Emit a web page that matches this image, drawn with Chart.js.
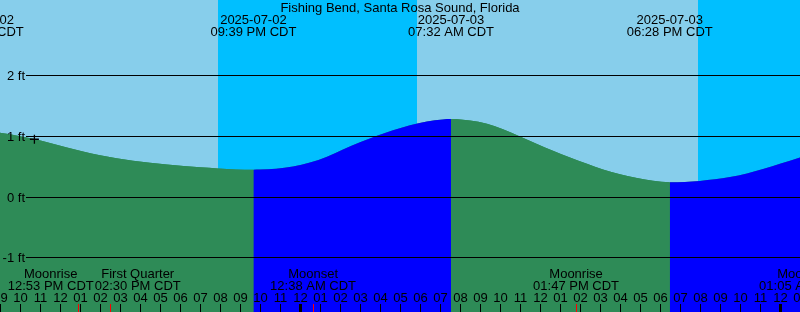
<!DOCTYPE html>
<html>
<head>
<meta charset="utf-8">
<title>Fishing Bend, Santa Rosa Sound, Florida</title>
<script src="https://cdn.jsdelivr.net/npm/chart.js@4/dist/chart.umd.min.js"></script>
<style>
  html, body { margin: 0; padding: 0; background: #87ceeb; }
  canvas { display: block; }
</style>
</head>
<body>
<canvas id="tide-chart" width="800" height="312"></canvas>
<script>
const title = 'Fishing Bend, Santa Rosa Sound, Florida';

// all hours are counted from 2025-07-02 00:00 CDT
const viewStart = 8.98;
const viewHours = 40;

// tide height (ft)
const tideHours = [8.03, 8.98, 9.48, 10.63, 11.48, 12.33, 13.13, 13.98, 15.63, 17.33, 18.98, 19.88,
  21.65, 21.98, 22.78, 23.63, 24.48, 25.33, 26.13, 26.98, 27.83, 28.63, 29.48, 30.33, 31.13,
  31.53, 32.48, 33.33, 34.13, 34.98, 35.83, 36.63, 37.48, 38.33, 39.13, 39.98, 40.83, 41.63,
  42.47, 43.23, 43.98, 44.73, 45.48, 46.33, 47.13, 47.98, 48.98, 49.98];
const tideFeet = [1.083, 1.063, 1.038, 0.963, 0.893, 0.819, 0.753, 0.692, 0.600, 0.537, 0.494, 0.475,
  0.452, 0.455, 0.468, 0.504, 0.572, 0.668, 0.786, 0.905, 1.012, 1.104, 1.187, 1.249, 1.282,
  1.289, 1.264, 1.210, 1.119, 0.999, 0.877, 0.765, 0.654, 0.551, 0.458, 0.379, 0.316, 0.270,
  0.246, 0.252, 0.269, 0.295, 0.333, 0.392, 0.463, 0.551, 0.654, 0.765];

const nowHour = 10.70;
const nowFeet = 0.955;

const extremeTimes = ['2025-07-02 08:01', '2025-07-02 21:39', '2025-07-03 07:32', '2025-07-03 18:28'];

const nightStarts = ['2025-07-02 19:53', '2025-07-03 19:53'];
const nightEnds = ['2025-07-03 05:50', '2025-07-04 05:50'];

const moonNames = ['Moonrise', 'First Quarter', 'Moonset', 'Moonrise', 'Moonset'];
const moonTimes = ['2025-07-02 12:53', '2025-07-02 14:30', '2025-07-03 00:38', '2025-07-03 13:47', '2025-07-04 01:05'];

const footTicks = [-1, 0, 1, 2];
const yMin = -1.8922;
const yMax = 3.2504;

const DAY = '#87ceeb';
const NIGHT = '#00bfff';
const FLOOD = '#0000ff';
const EBB = '#2e8b57';
const FONT = '13px "Liberation Sans", Arial, sans-serif';

function hoursOf(str) {
  const [d, t] = str.split(' ');
  const [hh, mm] = t.split(':').map(Number);
  return (Number(d.slice(8)) - 2) * 24 + hh + mm / 60;
}

function pad2(n) {
  return String(n).padStart(2, '0');
}

function clockText(str) {
  const [hh, mm] = str.split(' ')[1].split(':').map(Number);
  return `${pad2(hh % 12 || 12)}:${pad2(mm)} ${hh < 12 ? 'AM' : 'PM'} CDT`;
}

const tideDecor = {
  id: 'tideDecor',
  beforeDatasetsDraw(chart) {
    const { ctx, chartArea: a, scales: { x } } = chart;
    ctx.save();
    ctx.fillStyle = DAY;
    ctx.fillRect(a.left, a.top, a.width, a.height);
    ctx.fillStyle = NIGHT;
    nightStarts.forEach((s, i) => {
      const x0 = Math.round(x.getPixelForValue(hoursOf(s)));
      const x1 = Math.round(x.getPixelForValue(hoursOf(nightEnds[i])));
      ctx.fillRect(x0, a.top, x1 - x0, a.height);
    });
    ctx.restore();
  },
  afterDatasetsDraw(chart) {
    const { ctx, chartArea: a, scales: { x, y } } = chart;
    ctx.save();
    ctx.font = FONT;
    ctx.fillStyle = '#000';
    ctx.strokeStyle = '#000';
    ctx.lineWidth = 1;

    // foot lines + labels
    ctx.textAlign = 'right';
    ctx.textBaseline = 'middle';
    footTicks.forEach(v => {
      const py = Math.floor(y.getPixelForValue(v)) + 0.5;
      ctx.beginPath();
      ctx.moveTo(26, py);
      ctx.lineTo(a.right, py);
      ctx.stroke();
      ctx.fillText(`${v} ft`, 25, py + 1);
    });

    // title and high / low labels
    ctx.textAlign = 'center';
    ctx.textBaseline = 'alphabetic';
    ctx.fillText(title, 400, 12);
    extremeTimes.forEach(t => {
      const px = x.getPixelForValue(hoursOf(t));
      ctx.fillText(t.split(' ')[0], px, 24);
      ctx.fillText(clockText(t), px, 36);
    });

    // moon labels, pushed apart where they would overlap
    const centers = moonTimes.map(t => x.getPixelForValue(hoursOf(t)));
    const widths = moonTimes.map((t, i) => Math.max(ctx.measureText(moonNames[i]).width, ctx.measureText(clockText(t)).width));
    for (let pass = 0; pass < 5; pass++) {
      for (let i = 1; i < centers.length; i++) {
        const need = (widths[i - 1] + widths[i]) / 2 + 1;
        const gap = centers[i] - centers[i - 1];
        if (gap < need) {
          centers[i - 1] -= (need - gap) / 2;
          centers[i] += (need - gap) / 2;
        }
      }
    }
    moonTimes.forEach((t, i) => {
      ctx.fillText(moonNames[i], centers[i], 278);
      ctx.fillText(clockText(t), centers[i], 290);
    });

    // hour ticks
    for (let h = Math.ceil(viewStart); h <= viewStart + viewHours + 1; h++) {
      const px = x.getPixelForValue(h);
      const h12 = (h % 12) || 12;
      ctx.fillText(pad2(h12), px, 302);
      if (h % 24 === 0) {
        ctx.fillRect(Math.floor(px) - 1, 304, 3, 8);
      } else {
        ctx.fillRect(Math.floor(px), 304, 1, 8);
      }
    }
    ctx.fillStyle = '#ff0000';
    moonTimes.forEach(t => {
      const px = x.getPixelForValue(hoursOf(t));
      ctx.fillRect(Math.floor(px), 304, 1, 8);
    });
    ctx.restore();
  }
};

const tidePoints = tideHours.map((h, i) => ({ x: h, y: tideFeet[i] }));

new Chart(document.getElementById('tide-chart'), {
  type: 'line',
  data: {
    datasets: [
      {
        type: 'scatter',
        data: [{ x: nowHour, y: nowFeet }],
        pointStyle: 'cross',
        pointRadius: 4.5,
        borderColor: '#000',
        borderWidth: 1.3,
        order: 0,
      },
      {
        // flood (rising) in blue, ebb (falling) in green
        data: tidePoints,
        borderWidth: 0,
        pointRadius: 0,
        cubicInterpolationMode: 'monotone',
        fill: 'start',
        backgroundColor: EBB,
        segment: {
          backgroundColor: c => (c.p1.parsed.y > c.p0.parsed.y ? FLOOD : EBB),
        },
        order: 1,
      },
      {
        // plain underlay so the seams between fill segments don't show sky
        data: tidePoints,
        borderWidth: 0,
        pointRadius: 0,
        cubicInterpolationMode: 'monotone',
        fill: 'start',
        backgroundColor: EBB,
        order: 2,
      },
    ],
  },
  options: {
    responsive: false,
    animation: false,
    events: [],
    layout: { padding: 0, autoPadding: false },
    scales: {
      x: { type: 'linear', min: viewStart, max: viewStart + viewHours, display: false },
      y: { min: yMin, max: yMax, display: false },
    },
    plugins: {
      legend: { display: false },
      tooltip: { enabled: false },
    },
  },
  plugins: [tideDecor],
});
</script>
</body>
</html>
